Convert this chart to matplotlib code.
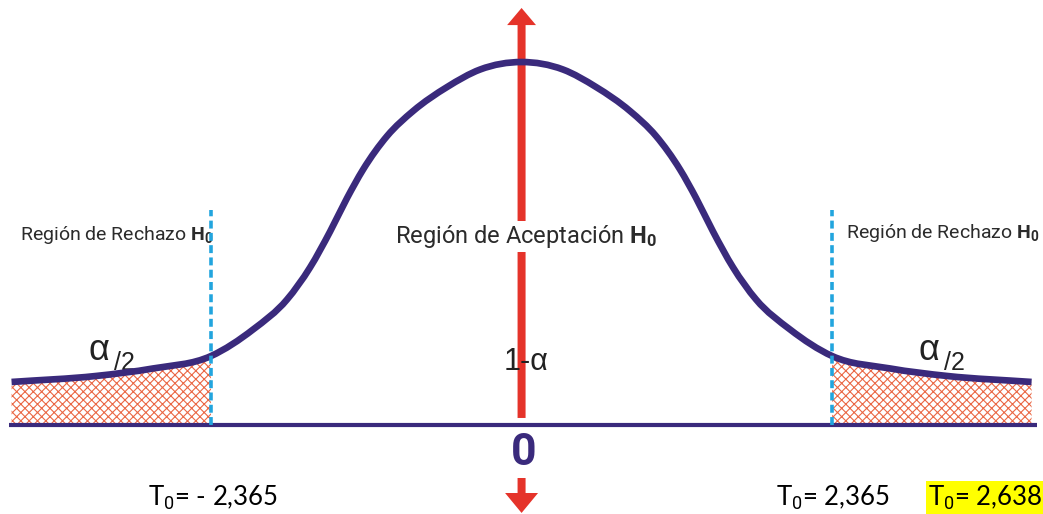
import numpy as np
import matplotlib.pyplot as plt
from matplotlib.patches import FancyArrow, PathPatch
from matplotlib.path import Path

plt.rcParams['mathtext.fontset'] = 'custom'
plt.rcParams['mathtext.rm'] = 'Roboto'
plt.rcParams['mathtext.bf'] = 'Roboto:bold'
plt.rcParams['hatch.linewidth'] = 0.8

#%% half profile of the curve (both sides averaged)
t_half = [0.0, 0.316, 0.567, 0.826, 1.024, 1.207, 1.329, 1.458,
          1.611, 1.786, 2.045, 2.365, 2.807, 3.241, 3.884]
d_half = [0.3821, 0.3742, 0.3558, 0.3305, 0.3042, 0.2689, 0.2389, 0.2037,
          0.1658, 0.1321, 0.1005, 0.0726, 0.0595, 0.0516, 0.0453]

t_crit = 2.365
crit_top = 0.2263   # top of the dashed lines
arrow_top = 0.439
arrow_bottom = -0.0926

t = np.concatenate([-np.array(t_half[:0:-1]), t_half])
d = np.concatenate([np.array(d_half[:0:-1]), d_half])

purple = '#3a2a7c'
red = '#e5332a'
cyan = '#22a5de'
hatch_c = '#ea6744'


def smooth_path(x, y):
    # cubic hermite through the read points (non-uniform 3-point slopes)
    x = np.asarray(x, float)
    y = np.asarray(y, float)
    h = np.diff(x)
    s = np.diff(y) / h
    m = np.empty_like(y)
    m[0], m[-1] = s[0], s[-1]
    m[1:-1] = (h[1:] * s[:-1] + h[:-1] * s[1:]) / (h[:-1] + h[1:])
    verts = [(x[0], y[0])]
    codes = [Path.MOVETO]
    for i in range(len(x) - 1):
        verts += [(x[i] + h[i] / 3, y[i] + m[i] * h[i] / 3),
                  (x[i + 1] - h[i] / 3, y[i + 1] - m[i + 1] * h[i] / 3),
                  (x[i + 1], y[i + 1])]
        codes += [Path.CURVE4] * 3
    return verts, codes


#%%
fig = plt.figure(figsize=(10.43, 5.14), dpi=100)
ax = fig.add_axes([0, 0, 1, 1])
ax.set_xlim(-3.972, 3.971)
ax.set_ylim(-0.0937, 0.4474)
ax.axis('off')

# hatched rejection tails
v_all, c_all = smooth_path(t, d)
for m in (t <= -t_crit + 1e-9, t >= t_crit - 1e-9):
    idx = np.where(m)[0]
    v = v_all[3 * idx[0]: 3 * idx[-1] + 1]
    c = [Path.MOVETO] + [Path.CURVE4] * (len(v) - 1)
    v = v + [(t[idx[-1]], 0), (t[idx[0]], 0), v[0]]
    c = c + [Path.LINETO, Path.LINETO, Path.CLOSEPOLY]
    ax.add_patch(PathPatch(Path(v, c), facecolor='none', edgecolor=hatch_c,
                           hatch='xxxx', linewidth=0, zorder=1))

# axis line and curve
ax.plot([-3.90, 3.926], [0, 0], color=purple, lw=3, solid_capstyle='butt', zorder=3)
ax.add_patch(PathPatch(Path(v_all, c_all), facecolor='none', edgecolor=purple,
                       lw=4.8, capstyle='butt', joinstyle='round', zorder=4))

# critical values
for tc in (-t_crit, t_crit):
    ax.plot([tc, tc], [0, crit_top], color=cyan, lw=2.6,
            linestyle=(0, (2.2, 1.2)), zorder=5)

# red arrows (vertical axis)
ax.add_patch(FancyArrow(0, 0.0074, 0, arrow_top - 0.0074, width=0.061,
                        head_width=0.22, head_length=0.018,
                        length_includes_head=True, color=red, lw=0, zorder=2))
ax.add_patch(FancyArrow(0, -0.0558, 0, arrow_bottom + 0.0558, width=0.061,
                        head_width=0.251, head_length=0.021,
                        length_includes_head=True, color=red, lw=0, zorder=2))


def px(x, y):
    return x / 1043, 1 - y / 514


lab_font = 'Roboto'
tc_txt = '#2b2b2b'
ax.text(*px(20, 240), r'Región de Rechazo $\mathbf{H_0}$', family=lab_font,
        fontsize=14, color=tc_txt, va='baseline', transform=ax.transAxes)
ax.text(*px(526, 243), r'Región de Aceptación $\mathbf{H_0}$', family=lab_font,
        fontsize=17, color=tc_txt, va='baseline', ha='center', zorder=6,
        transform=ax.transAxes,
        bbox=dict(facecolor='white', edgecolor='none', pad=1.5))
ax.text(*px(846, 238), r'Región de Rechazo $\mathbf{H_0}$', family=lab_font,
        fontsize=14, color=tc_txt, va='baseline', transform=ax.transAxes)

# alpha/2 labels
for x0 in (88, 918):
    ax.text(*px(x0, 360), 'α', family='Liberation Sans', fontsize=26,
            color='#222222', va='baseline', transform=ax.transAxes)
    ax.text(*px(x0 + 26, 370), '/2', family='Liberation Sans', fontsize=18,
            color='#222222', va='baseline', transform=ax.transAxes)

ax.text(*px(526, 370), '1-α', family='Liberation Sans', fontsize=22,
        color='#222222', va='baseline', ha='center', zorder=6,
        transform=ax.transAxes)
ax.text(*px(524, 465), '0', family='Roboto', fontsize=32, fontweight='bold',
        color=purple, va='baseline', ha='center', transform=ax.transAxes)

# bottom values
cal = ['Lato', 'DejaVu Sans']
ax.text(*px(148, 505), r'T$_0$= - 2,365', family=cal, fontsize=18.5,
        va='baseline', transform=ax.transAxes)
ax.text(*px(776, 505), r'T$_0$= 2,365', family=cal, fontsize=18.5,
        va='baseline', transform=ax.transAxes)
ax.text(*px(928, 505), r'T$_0$= 2,638', family=cal, fontsize=18.5,
        va='baseline', transform=ax.transAxes,
        bbox=dict(facecolor='#ffff00', edgecolor='none', pad=1.5))

fig.savefig('out.png', dpi=100)
